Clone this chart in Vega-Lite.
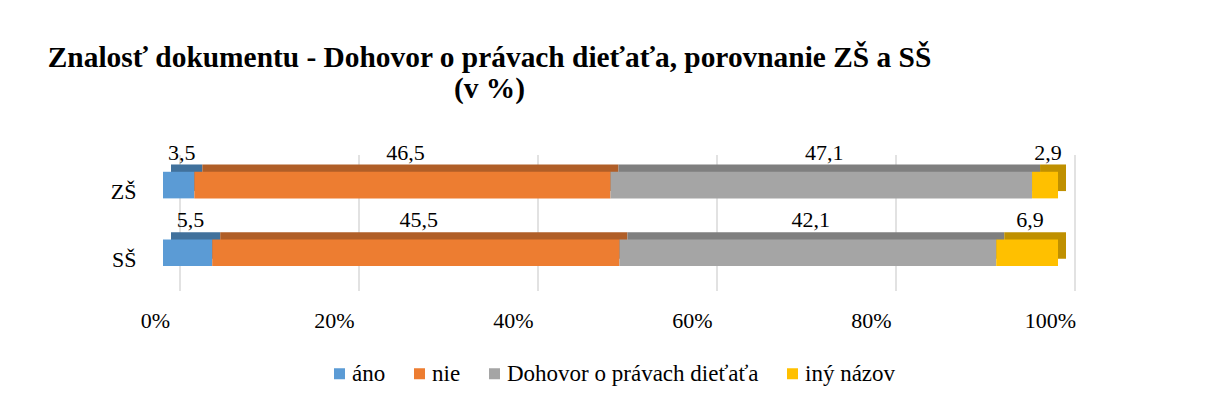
{
  "$schema": "https://vega.github.io/schema/vega-lite/v6.json",
  "autosize": {"type": "none"},
  "width": 895,
  "height": 136,
  "padding": {"left": 163, "top": 138, "right": 148, "bottom": 131},
  "background": "white",
  "title": {
    "text": ["Znalosť dokumentu - Dohovor o právach dieťaťa, porovnanie ZŠ a SŠ", "(v %)"],
    "font": "Liberation Serif",
    "fontSize": 29.4,
    "fontWeight": "bold",
    "color": "#000000",
    "anchor": "middle",
    "frame": "group",
    "dx": -121,
    "lineHeight": 31,
    "offset": 34
  },
  "data": {
    "values": [
      {"skola": "ZŠ", "odpoved": "áno", "k": 1, "hodnota": 3.5},
      {"skola": "ZŠ", "odpoved": "nie", "k": 2, "hodnota": 46.5},
      {"skola": "ZŠ", "odpoved": "Dohovor o právach dieťaťa", "k": 3, "hodnota": 47.1},
      {"skola": "ZŠ", "odpoved": "iný názov", "k": 4, "hodnota": 2.9},
      {"skola": "SŠ", "odpoved": "áno", "k": 1, "hodnota": 5.5},
      {"skola": "SŠ", "odpoved": "nie", "k": 2, "hodnota": 45.5},
      {"skola": "SŠ", "odpoved": "Dohovor o právach dieťaťa", "k": 3, "hodnota": 42.1},
      {"skola": "SŠ", "odpoved": "iný názov", "k": 4, "hodnota": 6.9}
    ]
  },
  "transform": [
    {"stack": "hodnota", "groupby": ["skola"], "sort": [{"field": "k", "order": "ascending"}], "offset": "normalize", "as": ["x0", "x1"]},
    {"calculate": "(datum.x0 + datum.x1) / 2", "as": "stred"}
  ],
  "encoding": {
    "y": {
      "field": "skola",
      "type": "nominal",
      "sort": ["ZŠ", "SŠ"],
      "title": null,
      "scale": {"paddingInner": 0.607, "paddingOuter": 0.308, "align": 0.81},
      "axis": {"domain": false, "ticks": false, "labelFont": "Liberation Serif", "labelFontSize": 22, "labelColor": "#000000", "labelPadding": 27, "labelOffset": 7}
    }
  },
  "layer": [
    {
      "mark": {"type": "bar", "xOffset": 8, "x2Offset": 8, "yOffset": -7.3, "y2Offset": -7.3},
      "encoding": {
        "x": {
          "field": "x0",
          "type": "quantitative",
          "title": null,
          "scale": {"domain": [0, 1]},
          "axis": {"orient": "bottom", "values": [0, 0.2, 0.4, 0.6, 0.8, 1], "labels": false, "domain": false, "ticks": false, "grid": true, "gridColor": "#d9d9d9", "gridWidth": 1.5, "translate": 17}
        },
        "x2": {"field": "x1"},
        "color": {
          "field": "odpoved",
          "type": "nominal",
          "scale": {"domain": ["áno", "nie", "Dohovor o právach dieťaťa", "iný názov"], "range": ["#41719C", "#B05E27", "#7F7F7F", "#BF9000"]},
          "legend": null
        }
      }
    },
    {
      "mark": {"type": "bar"},
      "encoding": {
        "x": {
          "field": "x0",
          "type": "quantitative",
          "title": null,
          "scale": {"domain": [0, 1]},
          "axis": {"orient": "bottom", "format": ".0%", "values": [0, 0.2, 0.4, 0.6, 0.8, 1], "domain": false, "ticks": false, "grid": false, "labelFont": "Liberation Serif", "labelFontSize": 22, "labelColor": "#000000", "labelPadding": 36, "labelOffset": -8, "labelFlush": false}
        },
        "x2": {"field": "x1"},
        "color": {
          "field": "odpoved",
          "type": "nominal",
          "title": null,
          "sort": ["áno", "nie", "Dohovor o právach dieťaťa", "iný názov"],
          "scale": {"domain": ["áno", "nie", "Dohovor o právach dieťaťa", "iný názov"], "range": ["#5B9BD5", "#ED7D31", "#A5A5A5", "#FFC000"]},
          "legend": {
            "orient": "none",
            "legendX": 165,
            "legendY": 224,
            "direction": "horizontal",
            "symbolType": "square",
            "symbolSize": 121,
            "symbolStrokeWidth": 0,
            "labelFont": "Liberation Serif",
            "labelFontSize": 23,
            "labelColor": "#000000",
            "labelLimit": 0,
            "columnPadding": 22,
            "labelOffset": 1
          }
        }
      }
    },
    {
      "mark": {"type": "text", "font": "Liberation Serif", "fontSize": 22, "color": "#000000", "baseline": "alphabetic", "dy": -25.5, "dx": 3},
      "encoding": {
        "x": {"field": "stred", "type": "quantitative", "axis": null},
        "text": {"field": "hodnota", "type": "quantitative", "format": ".1f"}
      }
    }
  ],
  "resolve": {"scale": {"color": "independent"}, "axis": {"x": "independent"}},
  "config": {
    "view": {"stroke": null},
    "locale": {"number": {"decimal": ",", "thousands": " ", "grouping": [3], "currency": ["", " €"]}}
  }
}
